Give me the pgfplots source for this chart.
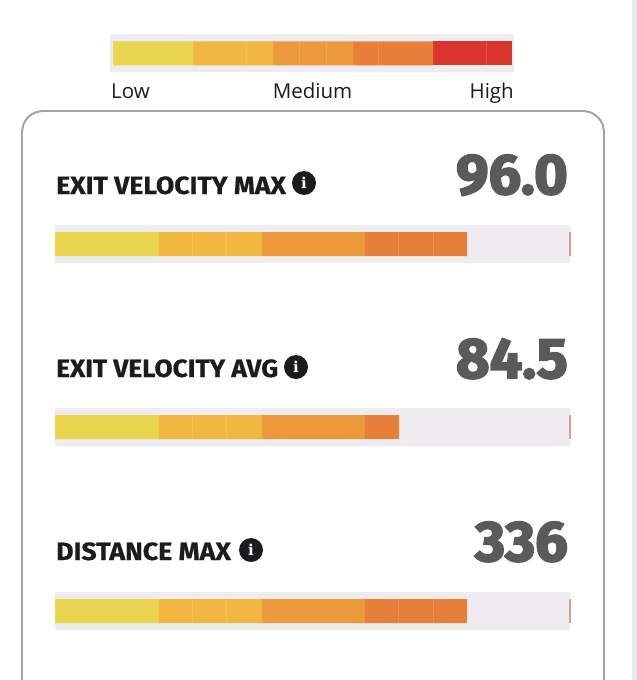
\documentclass[border=0pt]{standalone}
\usepackage{pgfplots}
\pgfplotsset{compat=1.18}
\usepackage{pgfplotstable}
\usepackage{fontspec}
\setmainfont{Fira Sans}
\newfontfamily\legfont{Open Sans}
\newfontfamily\iconfont{DejaVu Serif}
\newfontfamily\titlefont[FakeBold=0.6]{Fira Sans Bold}
\newfontfamily\numfont[FakeBold=3.2]{Fira Sans Bold}
\definecolor{cyel}{HTML}{E9D64E}
\definecolor{camb}{HTML}{F2B740}
\definecolor{cora}{HTML}{EC9A3C}
\definecolor{cdeep}{HTML}{E67F37}
\definecolor{cred}{HTML}{DB352F}
\definecolor{track}{HTML}{EEECEE}
\definecolor{frame}{HTML}{A3A3A3}
\definecolor{strip}{HTML}{E9E9EE}
\definecolor{numgray}{HTML}{5A5A5A}
\definecolor{ink}{HTML}{1C1C1F}
% y (pixels from top), start, then the five colour bands
\pgfplotstableread{
y off yel amb ora deep red
53.5 113 80 80 80 80 79
244 55 104 103 103 102 0
427 55 104 103 103 34 0
611 55 104 103 103 102 0
}\bands
\pgfplotstableread{
y off w
53.5 110 404
244 55 515
427 55 515
611 55 515
}\tracks
\pgfplotsset{base/.style={
  scale only axis, width=637pt, height=680pt, at={(0,0)}, anchor=south west,
  xmin=0, xmax=637, ymin=0, ymax=680, y dir=reverse,
  axis lines=none, clip=true, xtick=\empty, ytick=\empty,
  enlargelimits=false}}
\begin{document}
\begin{tikzpicture}[x=1pt,y=1pt]
\path[use as bounding box] (0,0) rectangle (637,680);
\begin{axis}[base, xbar stacked, bar width=38pt]
\addplot[draw=none, fill=none] table[x=off,y=y]{\tracks};
\addplot[draw=none, fill=track] table[x=w,y=y]{\tracks};
\end{axis}
\begin{axis}[base, xbar stacked, bar width=24pt]
\addplot[draw=none, fill=none] table[x=off,y=y]{\bands};
\addplot[draw=none, fill=cyel] table[x=yel,y=y]{\bands};
\addplot[draw=none, fill=camb] table[x=amb,y=y]{\bands};
\addplot[draw=none, fill=cora] table[x=ora,y=y]{\bands};
\addplot[draw=none, fill=cdeep] table[x=deep,y=y]{\bands};
\addplot[draw=none, fill=cred] table[x=red,y=y]{\bands};
\end{axis}
\begin{axis}[base, unbounded coords=jump]
% faint joins inside the bands
\addplot[white, opacity=0.14, line width=0.8pt] coordinates {
(246,42)(246,65) (299,inf) (299,42)(299,65) (326,inf) (326,42)(326,65) (378,inf) (378,42)(378,65) (486,inf) (486,42)(486,65) (486,inf)
(192,232)(192,256) (192,inf) (226,232)(226,256) (226,inf) (398,232)(398,256) (398,inf) (433,232)(433,256) (433,inf)
(192,415)(192,439) (192,inf) (226,415)(226,439) (226,inf)
(192,599)(192,623) (192,inf) (226,599)(226,623) (226,inf) (398,599)(398,623) (398,inf) (433,599)(433,623) (433,inf)
};
% end markers of the tracks
\addplot[color=cred!45!track, line width=1.2pt] coordinates {(570,232)(570,256)};
\addplot[color=cred!45!track, line width=1.2pt] coordinates {(570,415)(570,439)};
\addplot[color=cred!45!track, line width=1.2pt] coordinates {(570,599)(570,623)};
% page edge strip
\addplot[strip, line width=5pt] coordinates {(634.5,0)(634.5,680)};
% panel outline, open at the bottom
\addplot[frame, line width=2pt, smooth, tension=0.6] coordinates {(22,132)(23.6,124)(28.2,117.2)(35,112.6)(43,111)};
\addplot[frame, line width=2pt] coordinates {(22,132)(22,680)};
\addplot[frame, line width=2pt] coordinates {(43,111)(583,111)};
\addplot[frame, line width=2pt, smooth, tension=0.6] coordinates {(583,111)(591,112.6)(597.8,117.2)(602.4,124)(604,132)};
\addplot[frame, line width=2pt] coordinates {(604,132)(604,680)};
\node[anchor=base west, inner sep=0pt, text=ink] at (axis cs:111,98) {\legfont\fontsize{20.5}{24}\selectfont Low};
\node[anchor=base, inner sep=0pt, text=ink] at (axis cs:312.5,98) {\legfont\fontsize{20.5}{24}\selectfont Medium};
\node[anchor=base east, inner sep=0pt, text=ink] at (axis cs:514,98) {\legfont\fontsize{20.5}{24}\selectfont High};
\node[anchor=base west, inner sep=0pt, text=ink, xscale=1.065] at (axis cs:56,194) {\fontsize{25}{28}\selectfont\titlefont EXIT VELOCITY MAX};
\node[anchor=base west, inner sep=0pt, text=ink, xscale=1.05] at (axis cs:56,377) {\fontsize{25}{28}\selectfont\titlefont EXIT VELOCITY AVG};
\node[anchor=base west, inner sep=0pt, text=ink, xscale=1.07] at (axis cs:56,560) {\fontsize{25}{28}\selectfont\titlefont DISTANCE MAX};
\foreach \cx/\cy in {304/183, 296/367, 251/550}{
  \edef\tmp{\noexpand\node[circle, fill=ink, text=white, inner sep=0pt, minimum size=24pt, font=\noexpand\iconfont\noexpand\bfseries\noexpand\fontsize{15}{15}\noexpand\selectfont] at (axis cs:\cx,\cy) {i};}\tmp
}
\node[anchor=base east, inner sep=0pt, text=numgray, xscale=1.015] at (axis cs:568,194) {\fontsize{57}{60}\selectfont\numfont 96.0};
\node[anchor=base east, inner sep=0pt, text=numgray, xscale=1.015] at (axis cs:568,378) {\fontsize{57}{60}\selectfont\numfont 84.5};
\node[anchor=base east, inner sep=0pt, text=numgray, xscale=1.015] at (axis cs:568,561) {\fontsize{57}{60}\selectfont\numfont 336};
\end{axis}
\end{tikzpicture}
\end{document}
